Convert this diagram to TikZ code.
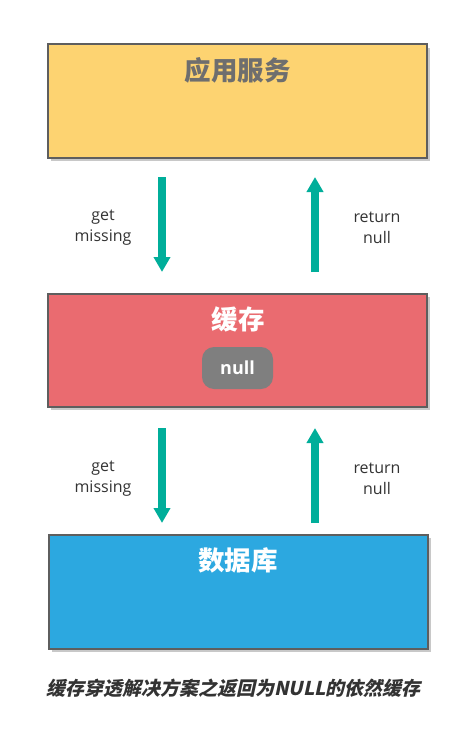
\documentclass[tikz,border=0pt]{standalone}
\usepackage{fontspec}
\usetikzlibrary{arrows.meta}
\newfontfamily\cjk{Noto Sans CJK SC}
\newfontfamily\capfont{Noto Sans CJK SC}[FakeSlant=0.22]
\newfontfamily\lat{Open Sans}
\definecolor{appfill}{HTML}{FDD371}
\definecolor{cachefill}{HTML}{EA6B70}
\definecolor{dbfill}{HTML}{2CA8E0}
\definecolor{boxline}{HTML}{5E5E5E}
\definecolor{teal}{HTML}{00AE9A}
\definecolor{pill}{HTML}{7F7F7F}
\definecolor{txt}{HTML}{333333}
\definecolor{shadowc}{HTML}{C8C8C8}
\tikzset{
  box/.style={draw=boxline, line width=2pt, minimum width=379pt, minimum height=113pt, inner sep=0pt, outer sep=0pt},
  title/.style={font=\cjk\bfseries\fontsize{26.5}{26.5}\selectfont, inner sep=0pt},
  lbl/.style={font=\lat\fontsize{16}{21}\selectfont, text=txt, align=center, inner sep=0pt},
  flow/.style={teal, line width=8pt, -{Triangle[width=16pt,length=15pt]}},
}
\begin{document}
\begin{tikzpicture}[x=1pt,y=-1pt]
\useasboundingbox (0,0) rectangle (473,749);
\fill[white] (0,0) rectangle (473,749);
% shadows
\fill[shadowc] (51,48) rectangle (430,161);
\fill[shadowc] (51,297) rectangle (430,410);
\fill[shadowc] (52,538) rectangle (431,652);
% boxes
\node[box, fill=appfill] (app) at (237.5,101) {};
\node[box, fill=cachefill] (cache) at (237.5,350.5) {};
\node[box, fill=dbfill, minimum height=114pt] (db) at (238.5,592) {};
\node[title, text=boxline!90] (apptitle) at (237.5,70.5) {应用服务};
\node[title, text=white] (cachetitle) at (238,319.5) {缓存};
\node[title, text=white] (dbtitle) at (238,560) {数据库};
\node[fill=pill, rounded corners=12pt, minimum width=71pt, minimum height=42pt, inner sep=0pt,
  text=white, font=\lat\bfseries\fontsize{18}{18}\selectfont] (null) at (237.5,368) {null};
% arrow anchors
\coordinate (a1s) at (162,177);
\coordinate (a1e) at (162,272);
\coordinate (a2s) at (315,272);
\coordinate (a2e) at (315,177);
\coordinate (a3s) at (162,428);
\coordinate (a3e) at (162,523);
\coordinate (a4s) at (315,523);
\coordinate (a4e) at (315,428);
\draw[flow] (a1s) -- (a1e);
\draw[flow] (a2s) -- (a2e);
\draw[flow] (a3s) -- (a3e);
\draw[flow] (a4s) -- (a4e);
\node[lbl] (l1) at (103,227.5) {get\\missing};
\node[lbl] (l2) at (377,227.5) {return\\null};
\node[lbl] (l3) at (103,478.5) {get\\missing};
\node[lbl] (l4) at (377,478.5) {return\\null};
\node[font=\capfont\bfseries\fontsize{19}{19}\selectfont, text=txt, inner sep=0pt] (cap) at (233.5,688) {缓存穿透解决方案之返回为NULL的依然缓存};
\end{tikzpicture}
\end{document}
